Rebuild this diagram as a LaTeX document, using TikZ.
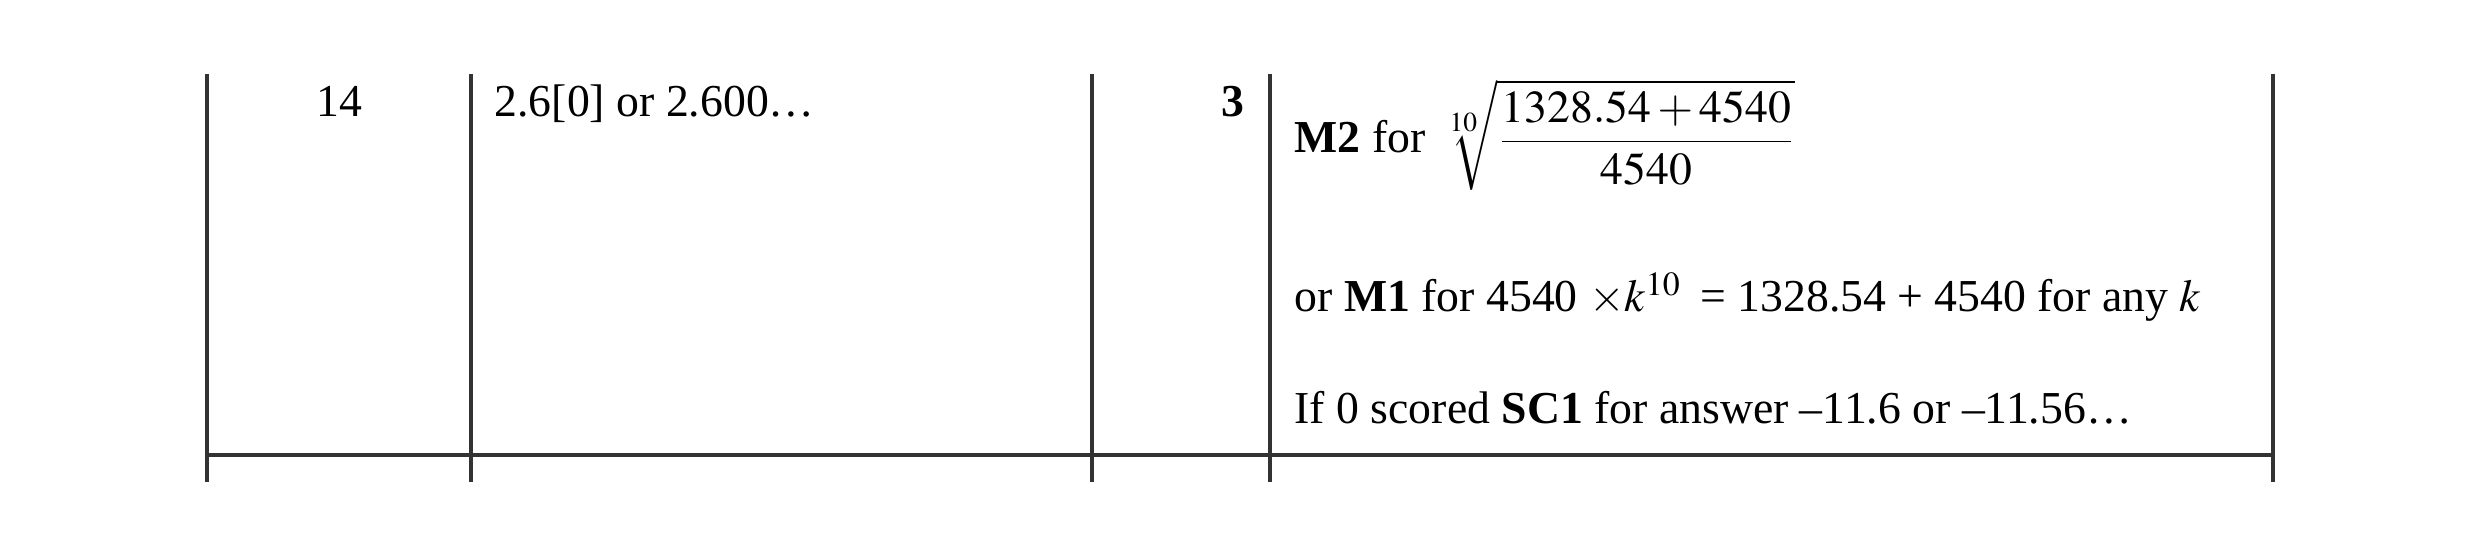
\documentclass[tikz,border=0pt]{standalone}
\usepackage{mathptmx}
\usepackage[no-math]{fontspec}
\setmainfont{Liberation Serif}
\usetikzlibrary{positioning}
\tikzset{
  rule/.style={line width=0.9pt, black!80},
  cell/.style={inner sep=0pt, font=\fontsize{13}{15}\selectfont}
}
\begin{document}
\begin{tikzpicture}[x=0.01cm, y=-0.01cm]
    \useasboundingbox (0,0) rectangle (2481,558);
    % column rules
    \foreach \xx in {207,471,1092,1270,2273} {
      \draw[rule] (\xx,74) -- (\xx,482);
    }
    \draw[rule] (207,455) -- (2273,455);

    % cells
    \node[cell, anchor=base] (qnum) at (339,117) {14};
    \node[cell, anchor=base west] (ans) at (494,117) {2.6[0] or 2.600\ldots};
    \node[cell, anchor=base east] (mark) at (1245,117) {\textbf{3}};
    \node[cell, anchor=base west] (mtwo) at (1294,153)
      {\textbf{M2} for $\sqrt[10]{\displaystyle\frac{1328.54+4540}{4540}}$};
    \node[cell, anchor=base west] (mone) at (1294,312)
      {or \textbf{M1} for 4540 $\times k^{10}$ \,= 1328.54 + 4540 for any $k$};
    \node[cell, anchor=base west] (sc) at (1294,424)
      {If 0 scored \textbf{SC1} for answer \textendash11.6 or \textendash11.56\ldots};
\end{tikzpicture}
\end{document}
